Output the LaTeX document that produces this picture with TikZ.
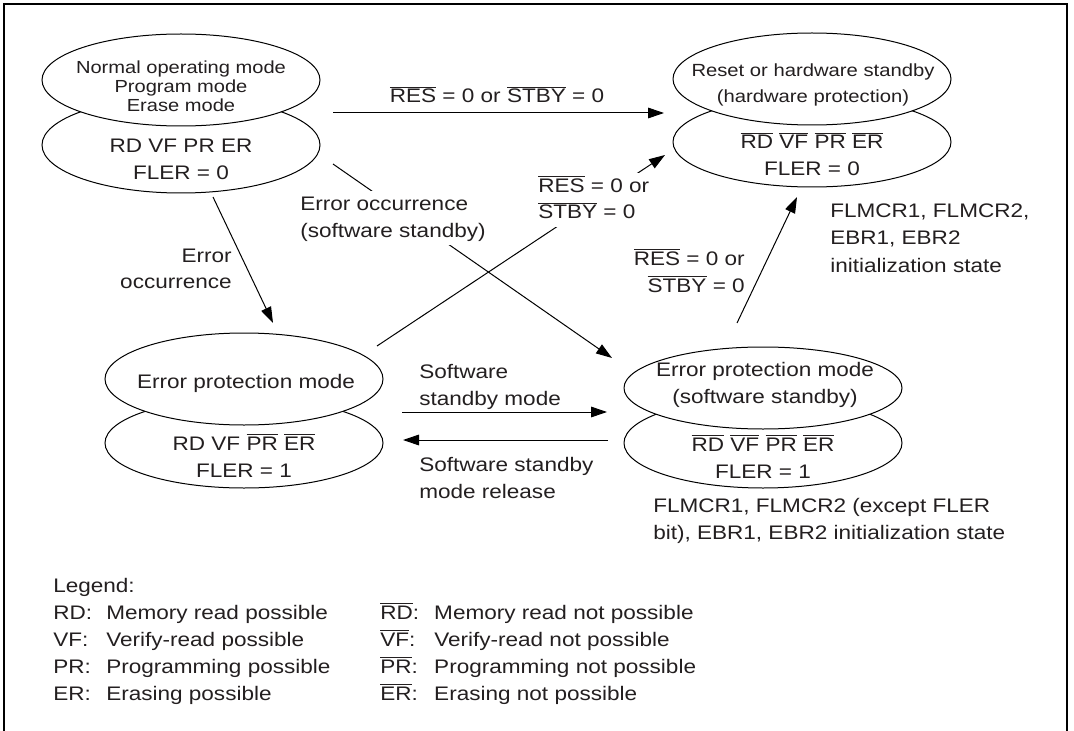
\documentclass[tikz,border=0pt]{standalone}
\usepackage{fontspec}
\setmainfont{Liberation Sans}[FakeStretch=1.15]
\usetikzlibrary{shapes.geometric,arrows.meta}
\definecolor{ink}{RGB}{35,31,32}
\newcommand\ovr[1]{\leavevmode\vbox{\hrule height 0.6pt\kern 1.5pt\hbox{#1}}}
\newcommand\ml[2]{\begin{tabular}[t]{@{}#1@{}}#2\end{tabular}}
\begin{document}
\begin{tikzpicture}[x=0.75pt,y=-0.75pt,
  ell/.style={draw, ellipse, inner sep=0pt, line width=0.75pt, fill=white, minimum width=208.5pt},
  lbl/.style={inner sep=0pt, text=ink, font=\fontsize{14.7}{20.25}\selectfont},
  smA/.style={inner sep=0pt, text=ink, font=\fontsize{13.1}{14.25}\selectfont},
  smB/.style={inner sep=0pt, text=ink, font=\fontsize{13.2}{19.5}\selectfont},
  arr/.style={line width=0.75pt, -{Triangle[length=12pt,width=8pt]}},
  lbw/.style={lbl, fill=white}]
\useasboundingbox (0,0) rectangle (1074,731);
\draw[line width=1.5pt] (4,740) -- (4,4) -- (1067,4) -- (1067,740);

% ellipses
\node[ell, minimum height=72pt] (Alo) at (181,145) {};
\node[ell, minimum height=69pt] (Aup) at (181,80) {};
\node[ell, minimum height=67.5pt] (Blo) at (812,142) {};
\node[ell, minimum height=69pt] (Bup) at (812,79) {};
\node[ell, minimum height=67.5pt] (Clo) at (244,443) {};
\node[ell, minimum height=69pt] (Cup) at (244,379) {};
\node[ell, minimum height=67.5pt] (Dlo) at (763,443) {};
\node[ell, minimum height=61.5pt] (Dup) at (763,388) {};

% state texts
\node[smA, anchor=base] (tA1) at (181,74) {\ml{c}{Normal operating mode\\Program mode\\Erase mode}};
\node[lbl, anchor=base] (tA2) at (181,153) {\ml{c}{RD VF PR ER\\FLER = 0}};
\node[smB, anchor=base] (tB1) at (813,77) {\ml{c}{Reset or hardware standby\\(hardware protection)}};
\node[lbl, anchor=base] (tB2) at (812,149) {\ml{c}{\ovr{RD} \ovr{VF} \ovr{PR} \ovr{ER}\\FLER = 0}};
\node[lbl, anchor=base] (tC1) at (246,388) {Error protection mode};
\node[lbl, anchor=base] (tC2) at (244,450) {\ml{c}{RD VF \ovr{PR} \ovr{ER}\\FLER = 1}};
\node[lbl, anchor=base] (tD1) at (765,376) {\ml{c}{Error protection mode\\(software standby)}};
\node[lbl, anchor=base] (tD2) at (763,451) {\ml{c}{\ovr{RD} \ovr{VF} \ovr{PR} \ovr{ER}\\FLER = 1}};

% connector end points
\coordinate (p1) at (333,113); \coordinate (p2) at (664,113);
\coordinate (p3) at (333,164); \coordinate (p4) at (612,358);
\coordinate (p5) at (213,197); \coordinate (p6) at (273,323);
\coordinate (p7) at (377,346); \coordinate (p8) at (665,155);
\coordinate (p9) at (737,323); \coordinate (p10) at (797,197);
\coordinate (p11) at (402,412); \coordinate (p12) at (607,412);
\coordinate (p13) at (608,440); \coordinate (p14) at (403,440);

\draw[arr] (p1) -- (p2);
\draw[arr] (p3) -- (p4);
\draw[arr] (p5) -- (p6);
\draw[arr] (p7) -- (p8);
\draw[arr] (p9) -- (p10);
\draw[arr] (p11) -- (p12);
\draw[arr] (p13) -- (p14);

% connector labels
\node[lbl, anchor=base] (l1) at (497,103) {\ovr{RES} = 0 or \ovr{STBY} = 0};
\node[lbw, anchor=base west] (l2) at (300,210) {\ml{l}{Error occurrence\\(software standby)}};
\node[lbl, anchor=base east] (l3) at (232,262) {\ml{r}{Error\\occurrence}};
\node[lbw, anchor=base west] (l4) at (538,192) {\ml{l}{\ovr{RES} = 0 or\\\ovr{STBY} = 0}};
\node[lbl, anchor=base east] (l5) at (745,265) {\ml{r}{\ovr{RES} = 0 or\\\ovr{STBY} = 0}};
\node[lbl, anchor=base west] (l6) at (419,378) {\ml{l}{Software\\standby mode}};
\node[lbl, anchor=base west] (l7) at (419,471) {\ml{l}{Software standby\\mode release}};

% notes
\node[lbl, anchor=base west] (n1) at (830,218) {\ml{l}{FLMCR1, FLMCR2,\\EBR1, EBR2\\initialization state}};
\node[lbl, anchor=base west] (n2) at (653,512) {\ml{l}{FLMCR1, FLMCR2 (except FLER\\bit), EBR1, EBR2 initialization state}};

% legend
\node[lbl, anchor=base west] (leg) at (53,592) {\begin{tabular}[t]{@{}p{39.75pt}@{}p{205.5pt}@{}p{40.5pt}@{}l@{}}
\multicolumn{4}{@{}l}{Legend:}\\
RD: & Memory read possible & \ovr{RD}: & Memory read not possible\\
VF: & Verify-read possible & \ovr{VF}: & Verify-read not possible\\
PR: & Programming possible & \ovr{PR}: & Programming not possible\\
ER: & Erasing possible & \ovr{ER}: & Erasing not possible
\end{tabular}};
\end{tikzpicture}
\end{document}
